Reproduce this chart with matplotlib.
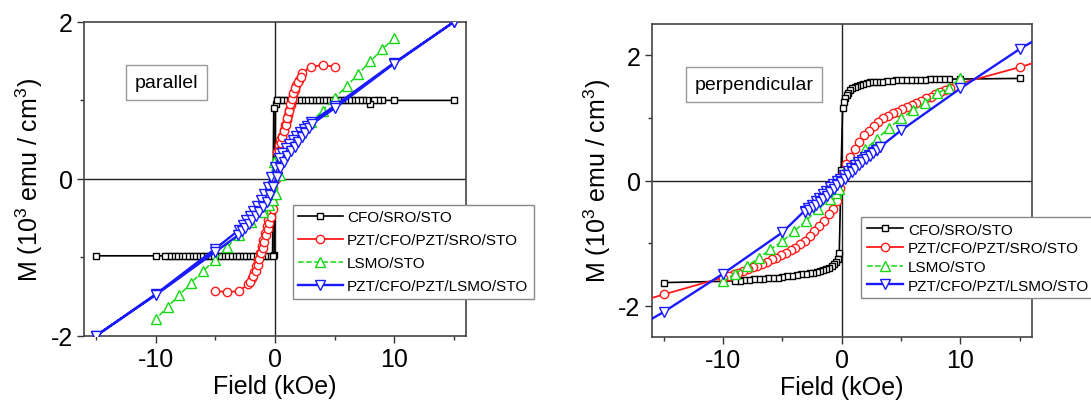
import numpy as np
import matplotlib
matplotlib.use('Agg')
import matplotlib.pyplot as plt
from matplotlib.ticker import MultipleLocator

plt.rcParams['font.family'] = ['Liberation Sans', 'DejaVu Sans']
plt.rcParams['mathtext.default'] = 'regular'
plt.rcParams['axes.unicode_minus'] = False

nan = np.nan

labels = ['CFO/SRO/STO', 'PZT/CFO/PZT/SRO/STO', 'LSMO/STO', 'PZT/CFO/PZT/LSMO/STO']

# ---------------- parallel (left) ----------------
cfo_par_x = [15, 10, 9, 8.6, 8.3, 8.0, 7.7, 7.4, 7.1, 6.8, 6.5, 6.2, 5.9, 5.6, 5.3, 5.0, 4.7, 4.4,
             4.1, 3.8, 3.5, 3.2, 2.9, 2.6, 2.3, 2.0, 1.7, 1.4, 1.1, 0.8, 0.5, 0.2, 0.05, -0.05,
             -0.5, -0.8, -1.1, -1.4, -1.7, -2.0, -2.3, -2.6, -2.9, -3.2, -3.5, -3.8, -4.1, -4.4,
             -4.7, -5.0, -5.3, -5.6, -5.9, -6.2, -6.5, -6.8, -7.1, -7.4, -7.7, -8.0, -8.3, -8.6,
             -8.9, -9.2, -10, -15,
             nan, -0.2, -0.1, 0.15]
cfo_par_y = [1.0, 1.0, 1.0, 1.0, 1.0, 0.96, 1.0, 1.0, 1.0, 1.0, 1.0, 1.0, 1.0, 1.0, 1.0, 1.0, 1.0, 1.0,
             1.0, 1.0, 1.0, 1.0, 1.0, 1.0, 1.0, 1.0, 1.0, 1.0, 1.0, 1.0, 1.0, 1.0, 0.95, -0.97,
             -0.98, -0.98, -0.98, -0.98, -0.98, -0.98, -0.98, -0.98, -0.98, -0.98, -0.98, -0.98, -0.98, -0.98,
             -0.98, -0.98, -0.98, -0.98, -0.98, -0.98, -0.98, -0.98, -0.98, -0.98, -0.98, -0.98, -0.98, -0.98,
             -0.98, -0.98, -0.98, -0.98,
             nan, -0.98, 0.9, 1.0]

red_par_x = [5, 4, 3, 2.3, 2.0, 1.8, 1.65, 1.52, 1.42, 1.32, 1.22, 1.11, 1.0, 0.88, 0.74, 0.6,
             0.46, 0.33, 0.2, 0.08, -0.04, -0.16, -0.28, -0.42, -0.56, -0.7, -0.84, -0.98, -1.12,
             -1.26, -1.4, -1.58, -1.76, -1.96, -2.25, -3, -4, -5,
             nan, -2.1, -1.8, -1.62, -1.46, -1.32, -1.18, -1.04, -0.9, -0.76, -0.62, -0.48, -0.34,
             -0.2, -0.06, 0.08, 0.2, 0.34, 0.48, 0.62, 0.76, 0.9, 1.04, 1.18, 1.3, 1.42, 1.55,
             1.7, 1.9, 2.15]
red_par_y = [1.43, 1.45, 1.43, 1.35, 1.26, 1.19, 1.13, 1.07, 1.0, 0.94, 0.88, 0.81, 0.75, 0.69, 0.62, 0.55,
             0.49, 0.43, 0.34, 0.2, 0.05, -0.12, -0.28, -0.44, -0.52, -0.6, -0.69, -0.78, -0.86,
             -0.94, -1.03, -1.11, -1.19, -1.26, -1.34, -1.43, -1.44, -1.43,
             nan, -1.31, -1.24, -1.17, -1.1, -1.02, -0.95, -0.88, -0.8, -0.72, -0.64, -0.56, -0.48,
             -0.38, -0.2, 0.0, 0.2, 0.36, 0.46, 0.53, 0.61, 0.69, 0.78, 0.87, 0.95, 1.02, 1.09,
             1.16, 1.23, 1.3]

grn_par_x = [10, 9, 8, 7, 6, 5, 4, 3, 2, 1, 0.5, 0.2, -0.1, -0.4, -1, -2, -3, -4, -5, -6, -7,
             -8, -9, -10,
             nan, -1, -0.5, -0.2, 0.1, 0.4, 1]
grn_par_y = [1.8, 1.65, 1.5, 1.34, 1.18, 1.03, 0.87, 0.72, 0.57, 0.42, 0.33, 0.27, 0.21, -0.05, -0.38,
             -0.55, -0.71, -0.87, -1.03, -1.17, -1.32, -1.48, -1.63, -1.79,
             nan, -0.42, -0.33, -0.27, -0.19, 0.05, 0.38]

blu_par_x = [15, 10, 5, 3, 2.7, 2.4, 2.1, 1.8, 1.5, 1.2, 0.9, 0.6, 0.3, 0.0, -0.3, -0.6, -0.9,
             -1.2, -1.5, -1.8, -2.1, -2.4, -2.7, -3, -5, -10, -15,
             nan, -15, -10, -5, -3.1, -2.8, -2.5, -2.2, -1.9, -1.6, -1.3, -1.0, -0.7, -0.4, -0.15,
             0.15, 0.45, 0.75, 1.05, 1.35, 1.65, 1.95, 2.25, 2.55, 2.85, 3.1, 5, 10, 15]
blu_par_y = [2.0, 1.48, 0.93, 0.72, 0.68, 0.64, 0.6, 0.55, 0.5, 0.45, 0.39, 0.33, 0.26, 0.15, 0.02, -0.1, -0.19,
             -0.27, -0.34, -0.41, -0.47, -0.53, -0.59, -0.65, -0.89, -1.47, -2.0,
             nan, -2.0, -1.48, -0.93, -0.72, -0.67, -0.62, -0.57, -0.52, -0.47, -0.42, -0.36, -0.29, -0.21, -0.1,
             0.03, 0.14, 0.22, 0.29, 0.35, 0.41, 0.47, 0.53, 0.59, 0.65, 0.7, 0.9, 1.47, 2.0]

# ---------------- perpendicular (right) ----------------
cfo_per_x = [15, 10, 9.0, 8.6, 8.2, 7.8, 7.4, 7.0, 6.6, 6.2, 5.8, 5.4, 5.0, 4.6, 4.2, 3.8, 3.4, 3.0,
             2.7, 2.4, 2.1, 1.8, 1.55, 1.3, 1.1, 0.9, 0.72, 0.56, 0.42, 0.3, 0.18, 0.08, -0.05,
             -0.2, -0.34, -0.48, -0.62, -0.8, -1.05, -1.3, -1.55, -1.8, -2.1, -2.4, -2.7, -3.0, -3.4,
             -3.8, -4.2, -4.6, -5.0, -5.4, -5.8, -6.2, -6.6, -7.0, -7.4, -7.8, -8.2, -8.6, -9.0,
             -10, -15]
cfo_per_y = [1.63, 1.62, 1.62, 1.62, 1.62, 1.62, 1.62, 1.61, 1.61, 1.61, 1.61, 1.6, 1.6, 1.6, 1.59, 1.59, 1.58, 1.58,
             1.57, 1.57, 1.56, 1.54, 1.53, 1.51, 1.49, 1.47, 1.44, 1.4, 1.36, 1.31, 1.25, 1.15, 0.16,
             -1.15, -1.25, -1.3, -1.33, -1.36, -1.39, -1.41, -1.43, -1.44, -1.46, -1.47, -1.48, -1.49, -1.5,
             -1.51, -1.52, -1.53, -1.54, -1.55, -1.55, -1.56, -1.57, -1.58, -1.58, -1.59, -1.59, -1.6, -1.6,
             -1.61, -1.63]

red_per_x = [20, 15, 10, 9.5, 9.1, 8.7, 8.3, 7.9, 7.5, 7.1, 6.7, 6.3, 5.9, 5.5, 5.1, 4.7, 4.3, 3.9,
             3.5, 3.1, 2.7, 2.3, 1.9, 1.5, 1.1, 0.7, 0.35, 0.1, -0.1, -0.35, -0.7, -1.1, -1.5, -1.9,
             -2.3, -2.7, -3.1, -3.5, -3.9, -4.3, -4.7, -5.1, -5.5, -5.9, -6.3, -6.7, -7.1, -7.5, -7.9,
             -8.3, -8.7, -9.1, -9.5, -10, -15, -20]
red_per_y = [2.1, 1.81, 1.55, 1.5, 1.47, 1.44, 1.41, 1.38, 1.34, 1.31, 1.27, 1.23, 1.2, 1.17, 1.14, 1.1, 1.07, 1.03,
             0.99, 0.93, 0.87, 0.79, 0.72, 0.62, 0.5, 0.38, 0.26, 0.1, -0.12, -0.32, -0.45, -0.54, -0.64, -0.73,
             -0.81, -0.89, -0.97, -1.02, -1.07, -1.11, -1.15, -1.19, -1.23, -1.26, -1.3, -1.33, -1.36, -1.38, -1.41,
             -1.44, -1.47, -1.5, -1.52, -1.55, -1.82, -2.1]

grn_per_x = [-10, -9, -8, -7, -6, -5, -4, -3, -2, -1, -0.5, -0.2, 0.2, 0.5, 1, 2, 3, 4, 5, 6, 7, 8, 9, 10]
grn_per_y = [-1.61, -1.49, -1.37, -1.24, -1.1, -0.97, -0.81, -0.64, -0.46, -0.3, -0.2, -0.13, 0.13, 0.2, 0.3,
             0.5, 0.67, 0.84, 0.99, 1.12, 1.24, 1.39, 1.48, 1.63]

blu_per_x = [20, 15, 10, 5, 3.2, 2.9, 2.6, 2.3, 2.0, 1.7, 1.4, 1.1, 0.8, 0.5, 0.2, -0.1, -0.4, -0.7,
             -1.0, -1.3, -1.6, -1.9, -2.2, -2.5, -2.8, -3.1, -5, -10, -15, -20,
             nan, -3.05, -2.75, -2.45, -2.15, -1.85, -1.55, -1.25, -0.95, -0.65, -0.35, -0.05, 0.25,
             0.55, 0.85, 1.15, 1.45, 1.75, 2.05, 2.35, 2.65, 2.95, 3.25]
blu_per_y = [2.65, 2.1, 1.47, 0.8, 0.53, 0.49, 0.45, 0.41, 0.37, 0.33, 0.29, 0.25, 0.2, 0.15, 0.09, 0.03, -0.01, -0.06,
             -0.1, -0.16, -0.22, -0.28, -0.33, -0.39, -0.44, -0.48, -0.83, -1.49, -2.1, -2.65,
             nan, -0.51, -0.47, -0.43, -0.39, -0.34, -0.29, -0.24, -0.19, -0.13, -0.07, -0.02, 0.03,
             0.09, 0.14, 0.19, 0.24, 0.29, 0.34, 0.39, 0.44, 0.48, 0.53]

BLACK, RED, GREEN, BLUE = '#000000', '#ff1a1a', '#13d813', '#1a1aff'


def draw_panel(ax, series, ylim, yticks, box_text, box_xy, leg_anchor, leg_spacing, leg_handle):
    # zero lines
    ax.axhline(0, color='#222222', lw=1.0, zorder=1)
    ax.axvline(0, color='#222222', lw=1.0, zorder=1)
    styles = [('s', '-', BLACK, 4.5, 1.2),
              ('o', '-', RED, 6, 1.3),
              ('^', '--', GREEN, 6.5, 1.1),
              ('v', '-', BLUE, 6.5, 1.7)]
    for (x, y), lab, (mk, ls, c, ms, lw) in zip(series, labels, styles):
        ax.plot(x, y, marker=mk, ls=ls, color=c, ms=ms, mfc='white', mec=c, mew=1.0,
                lw=lw, label=lab, zorder=3)
    ax.set_xlim(-16, 16)
    ax.set_ylim(*ylim)
    ax.set_xticks([-10, 0, 10])
    ax.set_yticks(yticks)
    ax.xaxis.set_minor_locator(MultipleLocator(5))
    ax.yaxis.set_minor_locator(MultipleLocator(1))
    ax.tick_params(which='both', direction='out', top=False, right=False, width=1.0, colors='#333333',
                   labelcolor='black')
    ax.tick_params(which='major', length=5, labelsize=18, pad=3)
    ax.tick_params(which='minor', length=3)
    for s in ax.spines.values():
        s.set_color('#444444')
        s.set_linewidth(1.2)
    ax.set_xlabel('Field (kOe)', fontsize=18, labelpad=2)
    ax.set_ylabel('M (10$^3$ emu / cm$^3$)', fontsize=18, labelpad=4)
    ax.text(box_xy[0], box_xy[1], box_text, fontsize=14, ha='center', va='center', zorder=5,
            bbox=dict(boxstyle='square,pad=0.45', fc='white', ec='#999999', lw=1.0))
    leg = ax.legend(loc='upper left', bbox_to_anchor=leg_anchor, borderaxespad=0, fontsize=11,
                    handlelength=leg_handle, handletextpad=0.3, labelspacing=leg_spacing,
                    borderpad=0.35, fancybox=False, framealpha=1, edgecolor='#888888')
    leg.get_frame().set_linewidth(1.0)
    leg.set_zorder(10)


fig = plt.figure(figsize=(10.91, 4.02), dpi=100)
ax1 = fig.add_axes([0.077, 0.162, 0.350, 0.781])
ax2 = fig.add_axes([0.5973, 0.159, 0.3483, 0.779])

draw_panel(ax1, [(cfo_par_x, cfo_par_y), (red_par_x, red_par_y), (grn_par_x, grn_par_y), (blu_par_x, blu_par_y)],
           (-2, 2), [-2, 0, 2], 'parallel', (-9.1, 1.23), (0.547, 0.418), 0.6, 2.9)
draw_panel(ax2, [(cfo_per_x, cfo_per_y), (red_per_x, red_per_y), (grn_per_x, grn_per_y), (blu_per_x, blu_per_y)],
           (-2.5, 2.5), [-2, 0, 2], 'perpendicular', (-7.4, 1.53), (0.552, 0.382), 0.3, 2.4)

fig.savefig('out.png', dpi=100)
